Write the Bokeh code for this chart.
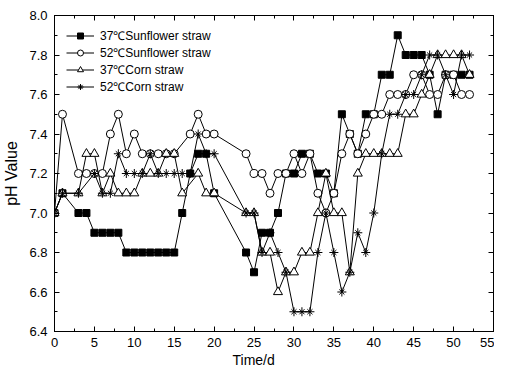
from bokeh.plotting import figure
from bokeh.models import LinearAxis, FixedTicker, Range1d, Legend, LegendItem, Title, CustomJSTickFormatter
from bokeh.embed import file_html
from bokeh.resources import INLINE

days = [0, 1, 3, 4, 5, 6, 7, 8, 9, 10, 11, 12, 13, 14, 15, 16, 17, 18, 19, 20,
        24, 25, 26, 27, 28, 29, 30, 31, 32, 33, 34, 35, 36, 37, 38, 39, 40, 41,
        42, 43, 44, 45, 46, 47, 48, 49, 50, 51, 52]

# 37 C sunflower straw (all days)
sun37 = [7.0, 7.1, 7.0, 7.0, 6.9, 6.9, 6.9, 6.9, 6.8, 6.8, 6.8, 6.8, 6.8, 6.8, 6.8, 7.0, 7.2, 7.3, 7.3, 7.1,
         6.8, 6.7, 6.9, 6.9, 7.0, 7.2, 7.2, 7.3, 7.3, 7.2, 7.2, 7.1, 7.5, 7.4, 7.3, 7.5, 7.5, 7.7,
         7.7, 7.9, 7.8, 7.8, 7.8, 7.7, 7.5, 7.7, 7.7, 7.7, 7.7]

# 52 C sunflower straw (no reading on day 16)
sun52_days = [0, 1, 3, 4, 5, 6, 7, 8, 9, 10, 11, 12, 13, 14, 15, 17, 18, 19, 20,
              24, 25, 26, 27, 28, 29, 30, 31, 32, 33, 34, 35, 36, 37, 38, 39, 40, 41,
              42, 43, 44, 45, 46, 47, 48, 49, 50, 51, 52]
sun52 = [7.0, 7.5, 7.2, 7.2, 7.2, 7.2, 7.4, 7.5, 7.3, 7.4, 7.3, 7.3, 7.3, 7.3, 7.3, 7.4, 7.5, 7.4, 7.4,
         7.3, 7.2, 7.2, 7.1, 7.2, 7.2, 7.3, 7.2, 7.3, 7.1, 7.0, 7.1, 7.3, 7.4, 7.3, 7.4, 7.5, 7.5,
         7.6, 7.6, 7.6, 7.7, 7.7, 7.6, 7.6, 7.7, 7.7, 7.6, 7.6]

# 37 C corn straw (no reading on day 17)
corn37_days = [0, 1, 3, 4, 5, 6, 7, 8, 9, 10, 11, 12, 13, 14, 15, 16, 18, 19, 20,
               24, 25, 26, 27, 28, 29, 30, 31, 32, 33, 34, 35, 36, 37, 38, 39, 40, 41,
               42, 43, 44, 45, 46, 47, 48, 49, 50, 51, 52]
corn37 = [7.0, 7.1, 7.1, 7.3, 7.3, 7.1, 7.2, 7.1, 7.1, 7.1, 7.2, 7.2, 7.2, 7.3, 7.3, 7.1, 7.2, 7.1, 7.1,
          7.0, 7.0, 6.8, 6.8, 6.6, 6.7, 6.7, 6.8, 6.8, 7.0, 7.2, 7.0, 7.0, 6.7, 7.2, 7.3, 7.3, 7.3,
          7.3, 7.3, 7.5, 7.5, 7.6, 7.7, 7.8, 7.8, 7.8, 7.8, 7.7]

# 52 C corn straw (no reading on day 4)
corn52_days = [0, 1, 3, 5, 6, 7, 8, 9, 10, 11, 12, 13, 14, 15, 16, 17, 18, 19, 20,
               24, 25, 26, 27, 28, 29, 30, 31, 32, 33, 34, 35, 36, 37, 38, 39, 40, 41,
               42, 43, 44, 45, 46, 47, 48, 49, 50, 51, 52]
corn52 = [7.0, 7.1, 7.1, 7.2, 7.1, 7.1, 7.3, 7.2, 7.2, 7.2, 7.3, 7.2, 7.2, 7.2, 7.2, 7.2, 7.4, 7.3, 7.3,
          7.0, 7.0, 6.8, 6.9, 6.8, 6.7, 6.5, 6.5, 6.5, 6.8, 7.0, 6.8, 6.6, 6.7, 6.9, 6.8, 7.0, 7.3,
          7.5, 7.5, 7.6, 7.6, 7.7, 7.8, 7.8, 7.7, 7.6, 7.8, 7.8]

labels = ["37\u2103Sunflower straw", "52\u2103Sunflower straw", "37\u2103Corn straw", "52\u2103Corn straw"]
x_ticks = [0, 5, 10, 15, 20, 25, 30, 35, 40, 45, 50, 55]
y_ticks = [6.4, 6.6, 6.8, 7.0, 7.2, 7.4, 7.6, 7.8, 8.0]

FONT = "Liberation Sans"

p = figure(width=494, height=367, output_backend="svg", toolbar_location=None,
           x_range=Range1d(0, 55), y_range=Range1d(6.4, 8.0),
           min_border_left=51, min_border_right=1, min_border_top=15, min_border_bottom=0,
           x_axis_type=None, y_axis_type=None)
p.background_fill_color = "white"
p.border_fill_color = "white"
p.outline_line_color = "black"
p.outline_line_width = 1
p.xgrid.visible = False
p.ygrid.visible = False


def style_axis(ax, ticks, minor, show_labels):
    ax.ticker = FixedTicker(ticks=ticks, minor_ticks=minor)
    ax.axis_line_color = "black"
    ax.major_tick_in = 5
    ax.major_tick_out = 0
    ax.minor_tick_in = 3
    ax.minor_tick_out = 0
    ax.major_tick_line_color = "black"
    ax.minor_tick_line_color = "black"
    if show_labels:
        ax.major_label_text_font = FONT
        ax.major_label_text_font_size = "13px"
        ax.major_label_text_color = "black"
        ax.axis_label_text_font = FONT
        ax.axis_label_text_font_style = "normal"
        ax.axis_label_text_font_size = "16px"
        ax.axis_label_text_color = "black"
    else:
        ax.major_label_text_font_size = "0px"
        ax.major_label_text_alpha = 0
        ax.major_label_standoff = 0


x_minor = [i * 2.5 for i in range(23)]
y_minor = [round(6.4 + i * 0.1, 1) for i in range(17)]

xb = LinearAxis()
style_axis(xb, x_ticks, x_minor, True)
xb.major_label_standoff = 6
p.add_layout(xb, "below")

yl = LinearAxis(axis_label="pH Value")
style_axis(yl, y_ticks, y_minor, True)
yl.formatter = CustomJSTickFormatter(code="return tick.toFixed(1);")
yl.major_label_standoff = 7
yl.axis_label_standoff = 6
p.add_layout(yl, "left")

xt = LinearAxis()
style_axis(xt, x_ticks, x_minor, False)
p.add_layout(xt, "above")

yr = LinearAxis()
style_axis(yr, y_ticks, y_minor, False)
p.add_layout(yr, "right")

xtitle = Title(text="Time/d", align="left", offset=178, text_font=FONT,
               text_font_size="14px", text_font_style="normal", text_color="black", standoff=0)
p.add_layout(xtitle, "below")

items = []
series = [(days, sun37, ["square"], "black", 7), (sun52_days, sun52, ["circle"], "white", 8),
          (corn37_days, corn37, ["triangle"], "white", 9),
          (corn52_days, corn52, ["cross", "x"], "black", 9)]
for (xs, vals, markers, fill, size), lab in zip(series, labels):
    rs = [p.line(xs, vals, line_color="black", line_width=1)]
    for mk in markers:
        msize = size if mk != "x" else size * 0.8
        rs.append(p.scatter(xs, vals, marker=mk, size=msize, line_color="black",
                            fill_color=fill, line_width=1))
    items.append(LegendItem(label=lab, renderers=rs))

legend = Legend(items=items, location="top_left")
legend.label_text_font = FONT
legend.label_text_font_size = "12px"
legend.label_text_color = "black"
legend.border_line_alpha = 0
legend.background_fill_alpha = 0
legend.spacing = -2
legend.padding = 0
legend.margin = 12
legend.glyph_width = 28
legend.label_standoff = 6
legend.label_height = 15
legend.glyph_height = 15
p.add_layout(legend)

open("out.html", "w").write(file_html(p, INLINE))
